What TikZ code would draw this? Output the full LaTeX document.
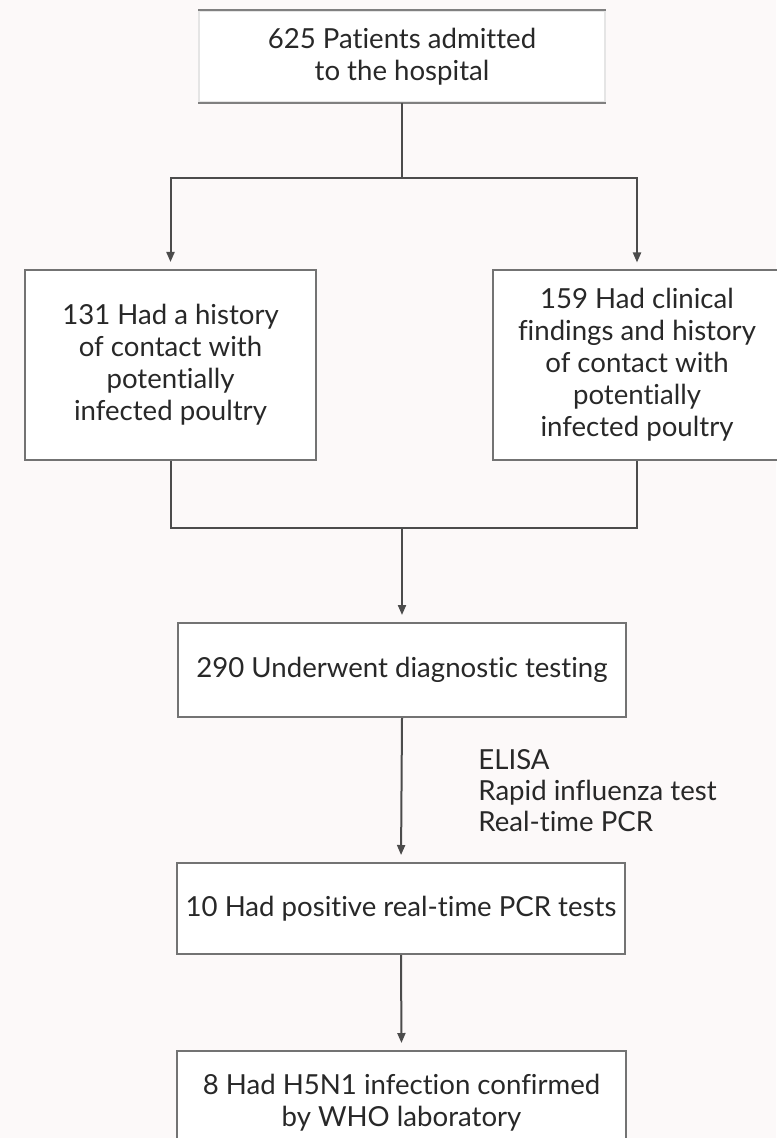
\documentclass[tikz,border=0pt]{standalone}
\usepackage{fontspec}
\setmainfont{Lato}[Ligatures={NoCommon}]
\usetikzlibrary{arrows.meta}
\definecolor{paper}{RGB}{252,249,249}
\definecolor{ink}{RGB}{40,40,40}
\tikzset{
  box/.style={draw=black!55, line width=1pt, fill=white, align=center, text=ink,
    inner sep=0pt, font=\fontsize{13.8}{16}\selectfont},
  line/.style={draw=black!70, line width=1pt},
  arrow/.style={line, -{Triangle[length=5pt,width=4pt]}, shorten >=3.5pt},
}
\begin{document}
\begin{tikzpicture}[x=0.5pt, y=-0.5pt]
\fill[paper] (0,0) rectangle (776,1138);
\useasboundingbox (0,0) rectangle (776,1138);

\node [box, draw=black!10, minimum width=203pt, minimum height=45.5pt] (adm) at (402,56.5)
  {625 Patients admitted\\to the hospital};
\draw[draw=black!50, line width=1pt] (adm.north west) -- (adm.north east);
\draw[draw=black!50, line width=1pt] (adm.south west) -- (adm.south east);

\node [box, minimum width=145.5pt, minimum height=95pt] (hist) at (170.5,365)
  {131 Had a history\\of contact with\\potentially\\infected poultry};
\node [box, minimum width=144pt, minimum height=94.5pt] (clin) at (637,365)
  {159 Had clinical\\findings and history\\of contact with\\potentially\\infected poultry};

\node [box, minimum width=224pt, minimum height=47pt] (test) at (402,670)
  {290 Underwent diagnostic testing};
\node [box, minimum width=224pt, minimum height=45.5pt] (pcr) at (401,908.5)
  {10 Had positive real-time PCR tests};
\node [box, minimum width=224.5pt, minimum height=50pt, anchor=north] (who) at (401.5,1050)
  {\\[-4pt]8 Had H5N1 infection confirmed\\by WHO laboratory};

\node [anchor=west, align=left, text=ink, inner sep=0pt,
  font=\fontsize{13.8}{15.5}\selectfont] (meth) at (478,791)
  {ELISA\\Rapid influenza test\\Real-time PCR};

\coordinate (split) at (402,178);
\coordinate (join) at (402,528);

\draw[line] (adm.south) -- (split);
\draw[arrow] (split) -| (hist.north);
\draw[arrow] (split) -| (clin.north);
\draw[line] (hist.south) |- (join) -| (clin.south);
\draw[arrow] (join) -- (test.north);
\draw[arrow] (test.south) -- (pcr.north);
\draw[arrow] (pcr.south) -- (who.north);

\end{tikzpicture}
\end{document}
